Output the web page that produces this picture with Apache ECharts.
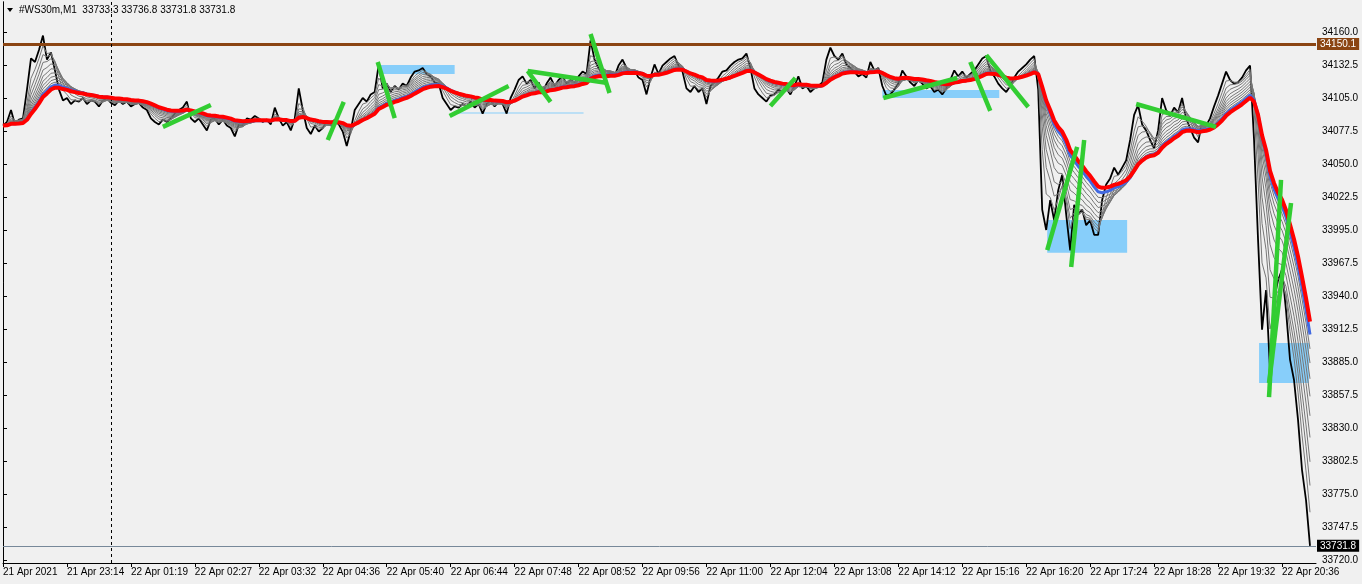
<!DOCTYPE html>
<html>
<head>
<meta charset="utf-8">
<script src="https://cdn.jsdelivr.net/npm/echarts@6/dist/echarts.min.js"></script>
<style>
html, body { margin: 0; padding: 0; background: #f0f0f0; }
#chart { width: 1362px; height: 584px; }
</style>
</head>
<body>
<div id="chart"></div>
<script>
// #WS30m M1 closes, one reading every 4 bars
const barStep = 4;
const closes = [
  34082, 34085, 34095, 34083, 34087, 34088, 34112, 34138, 34135, 34145, 34157, 34137, 34143, 34128, 34112, 34103,
  34105, 34100, 34103, 34102, 34105, 34100, 34103, 34102, 34098, 34103, 34105, 34101, 34099, 34103, 34100, 34102,
  34098, 34100, 34101, 34097, 34095, 34088, 34085, 34083, 34087, 34085, 34088, 34092, 34095, 34097, 34102, 34088,
  34085, 34088, 34083, 34078, 34087, 34088, 34083, 34087, 34082, 34080, 34073, 34083, 34082, 34088, 34087, 34090,
  34088, 34085, 34087, 34083, 34097, 34088, 34082, 34085, 34078, 34088, 34113, 34095, 34080, 34075, 34082, 34077,
  34080, 34085, 34082, 34087, 34083, 34077, 34065, 34078, 34095, 34100, 34105, 34102, 34108, 34110, 34133, 34113,
  34117, 34110, 34115, 34112, 34117, 34115, 34122, 34127, 34128, 34130, 34125, 34123, 34118, 34117, 34105, 34100,
  34095, 34098, 34097, 34100, 34098, 34102, 34097, 34100, 34092, 34100, 34103, 34098, 34102, 34100, 34092, 34105,
  34112, 34120, 34123, 34117, 34120, 34113, 34118, 34110, 34117, 34122, 34115, 34120, 34123, 34117, 34120, 34118,
  34123, 34127, 34125, 34153, 34137, 34130, 34125, 34122, 34127, 34123, 34132, 34137, 34130, 34125, 34128, 34122,
  34120, 34108, 34122, 34133, 34125, 34132, 34135, 34138, 34140, 34132, 34127, 34113, 34110, 34115, 34110, 34113,
  34100, 34115, 34118, 34122, 34127, 34128, 34132, 34135, 34137, 34138, 34142, 34130, 34113, 34108, 34105, 34102,
  34107, 34108, 34112, 34110, 34113, 34108, 34115, 34123, 34113, 34115, 34110, 34113, 34115, 34118, 34137, 34147,
  34140, 34137, 34142, 34133, 34130, 34127, 34123, 34125, 34122, 34135, 34128, 34130, 34115, 34107, 34108, 34112,
  34117, 34128, 34123, 34118, 34115, 34120, 34117, 34113, 34115, 34110, 34112, 34108, 34113, 34120, 34128, 34123,
  34127, 34122, 34125, 34128, 34133, 34138, 34140, 34128, 34123, 34117, 34113, 34110, 34115, 34122, 34127, 34130,
  34133, 34137, 34140, 34112, 34012, 33995, 34020, 34003, 34028, 34041, 34008, 33978, 34016, 34008, 34012, 33999,
  34003, 33991, 33991, 34020, 34033, 34038, 34047, 34041, 34047, 34053, 34070, 34091, 34099, 34083, 34078, 34070,
  34063, 34078, 34105, 34095, 34090, 34097, 34093, 34105, 34088, 34080, 34072, 34068, 34085, 34082, 34088, 34098,
  34107, 34117, 34127, 34120, 34117, 34118, 34122, 34128, 34132, 34070, 33987, 33912, 33945, 33878, 33937, 33953,
  33962, 33928, 33887, 33870, 33837, 33795, 33770, 33731.8
];

const priceTicks = [34160.0, 34132.5, 34105.0, 34077.5, 34050.0, 34022.5, 33995.0, 33967.5, 33940.0,
  33912.5, 33885.0, 33857.5, 33830.0, 33802.5, 33775.0, 33747.5, 33720.0];
const timeTicks = [0, 64, 128, 192, 256, 320, 384, 448, 512, 576, 640, 704, 768, 832, 896, 960, 1024, 1088, 1152, 1216, 1280];
const timeLabels = ['21 Apr 2021', '21 Apr 23:14', '22 Apr 01:19', '22 Apr 02:27', '22 Apr 03:32', '22 Apr 04:36',
  '22 Apr 05:40', '22 Apr 06:44', '22 Apr 07:48', '22 Apr 08:52', '22 Apr 09:56', '22 Apr 11:00', '22 Apr 12:04',
  '22 Apr 13:08', '22 Apr 14:12', '22 Apr 15:16', '22 Apr 16:20', '22 Apr 17:24', '22 Apr 18:28', '22 Apr 19:32',
  '22 Apr 20:36'];

// moving average ribbon periods (in bars)
const ribbonPeriods = [10, 16, 22, 29, 36, 43, 50, 57, 64];
const bluePeriod = 72;
const redPeriod = 80;

const hLevel = 34150.1;
const lastPrice = 33731.8;
const separatorBar = 108;

// rectangles: [fromBar, toBar, low, high]
const zones = [
  [376, 452, 34125.0, 34132.5],
  [880, 997, 34105.0, 34111.7],
  [1045, 1125, 33976.0, 34003.3],
  [1257, 1307, 33867.5, 33900.8]
];
const zoneLine = [[451, 34092.5], [581, 34092.5]];

// trend lines: [bar1, price1, bar2, price2]
const trendLines = [
  [160, 34080.9, 208, 34099.2],
  [325, 34070.0, 341, 34101.7],
  [375, 34135.0, 392, 34088.3],
  [447, 34090.0, 506, 34115.0],
  [525, 34127.5, 548, 34101.7],
  [525, 34127.5, 605, 34117.5],
  [588, 34158.3, 607, 34109.2],
  [768, 34098.3, 793, 34121.7],
  [881, 34105.0, 955, 34121.7],
  [968, 34135.0, 988, 34094.2],
  [984, 34140.8, 1026, 34097.5],
  [1045, 33978.3, 1075, 34064.2],
  [1069, 33964.2, 1082, 34070.0],
  [1134, 34100.0, 1214, 34080.9],
  [1267, 33855.8, 1279, 34036.7],
  [1267, 33867.5, 1289, 34017.5]
];

const FONT = 'Liberation Sans, Arial, sans-serif';

function ema(values, period) {
  const a = 1 - Math.pow(1 - 2 / (period + 1), barStep);
  const out = [];
  let prev = values[0];
  values.forEach((v, i) => {
    prev = i === 0 ? v : prev + a * (v - prev);
    out.push([i * barStep, prev]);
  });
  return out;
}

const chart = echarts.init(document.getElementById('chart'));

const maLine = (data, color, width, z) => ({
  type: 'line',
  data: data,
  showSymbol: false,
  silent: true,
  z: z,
  lineStyle: { color: color, width: width },
  animation: false
});

const series = [
  {
    type: 'custom',
    z: 1,
    silent: true,
    data: zones,
    encode: { x: [0, 1], y: [2, 3] },
    renderItem: (params, api) => {
      const p0 = api.coord([api.value(0), api.value(3)]);
      const p1 = api.coord([api.value(1), api.value(2)]);
      return {
        type: 'rect',
        shape: { x: p0[0], y: p0[1], width: p1[0] - p0[0], height: p1[1] - p0[1] },
        style: { fill: '#87cefa' }
      };
    }
  },
  maLine(zoneLine, '#87cefa', 1, 1),
  {
    type: 'line',
    data: closes.map((v, i) => [i * barStep, v]),
    showSymbol: false,
    silent: true,
    z: 2,
    lineStyle: { color: '#000', width: 1.8 },
    animation: false,
    markLine: {
      silent: true,
      symbol: 'none',
      animation: false,
      data: [
        {
          yAxis: hLevel,
          lineStyle: { color: '#8b4513', width: 3, type: 'solid' },
          label: {
            position: 'end', distance: 1, formatter: hLevel.toFixed(1),
            backgroundColor: '#8b4513', color: '#fff', padding: [1, 3],
            fontFamily: FONT, fontSize: 10
          }
        },
        {
          yAxis: lastPrice,
          lineStyle: { color: '#778899', width: 1, type: 'solid' },
          label: {
            position: 'end', distance: 1, formatter: lastPrice.toFixed(1),
            backgroundColor: '#000', color: '#fff', padding: [1, 3],
            fontFamily: FONT, fontSize: 10
          }
        },
        {
          xAxis: separatorBar,
          lineStyle: { color: '#000', width: 1, type: [3, 3] },
          label: { show: false }
        }
      ]
    }
  }
];

ribbonPeriods.forEach(p => series.push(maLine(ema(closes, p), '#777777', 1, 3)));
series.push(maLine(ema(closes, bluePeriod), '#4169e1', 3, 4));
series.push(maLine(ema(closes, redPeriod), '#ff0000', 4, 5));

series.push({
  type: 'custom',
  z: 6,
  silent: true,
  data: trendLines,
  encode: { x: [0, 2], y: [1, 3] },
  renderItem: (params, api) => {
    const p0 = api.coord([api.value(0), api.value(1)]);
    const p1 = api.coord([api.value(2), api.value(3)]);
    return {
      type: 'line',
      shape: { x1: p0[0], y1: p0[1], x2: p1[0], y2: p1[1] },
      style: { stroke: '#32cd32', lineWidth: 4.5 }
    };
  }
});

const option = {
  backgroundColor: '#f0f0f0',
  animation: false,
  grid: { left: 2, right: 46, top: 2, bottom: 21 },
  xAxis: {
    type: 'value',
    min: 0,
    max: 1314,
    axisLine: { show: true, lineStyle: { color: '#000', width: 1 } },
    axisTick: { show: true, length: 4, customValues: timeTicks, lineStyle: { color: '#000' } },
    axisLabel: {
      customValues: timeTicks,
      formatter: v => timeLabels[timeTicks.indexOf(v)] || '',
      align: 'left', margin: 4, color: '#000', fontFamily: FONT, fontSize: 10
    },
    splitLine: { show: false }
  },
  yAxis: [
    {
      type: 'value',
      position: 'right',
      min: 33717.5,
      max: 34185,
      axisLine: { show: true, lineStyle: { color: '#000', width: 1 } },
      axisTick: { show: true, length: 4, customValues: priceTicks, lineStyle: { color: '#000' } },
      axisLabel: {
        customValues: priceTicks,
        formatter: v => v.toFixed(1),
        margin: 6, color: '#000', fontFamily: FONT, fontSize: 10
      },
      splitLine: { show: false }
    },
    {
      type: 'value',
      position: 'left',
      min: 33717.5,
      max: 34185,
      axisLine: { show: true, lineStyle: { color: '#000', width: 1 } },
      axisTick: { show: false },
      axisLabel: { show: false },
      splitLine: { show: false }
    }
  ],
  graphic: [
    { type: 'polygon', shape: { points: [[7, 8], [13, 8], [10, 12]] }, style: { fill: '#000' } },
    {
      type: 'text', x: 19, y: 10,
      style: {
        text: '#WS30m,M1  33733.3 33736.8 33731.8 33731.8',
        font: '10px ' + FONT, fill: '#000', verticalAlign: 'middle'
      }
    }
  ],
  series: series
};

chart.setOption(option);

window.addEventListener('resize', () => {
  chart.resize();
});
</script>
</body>
</html>
